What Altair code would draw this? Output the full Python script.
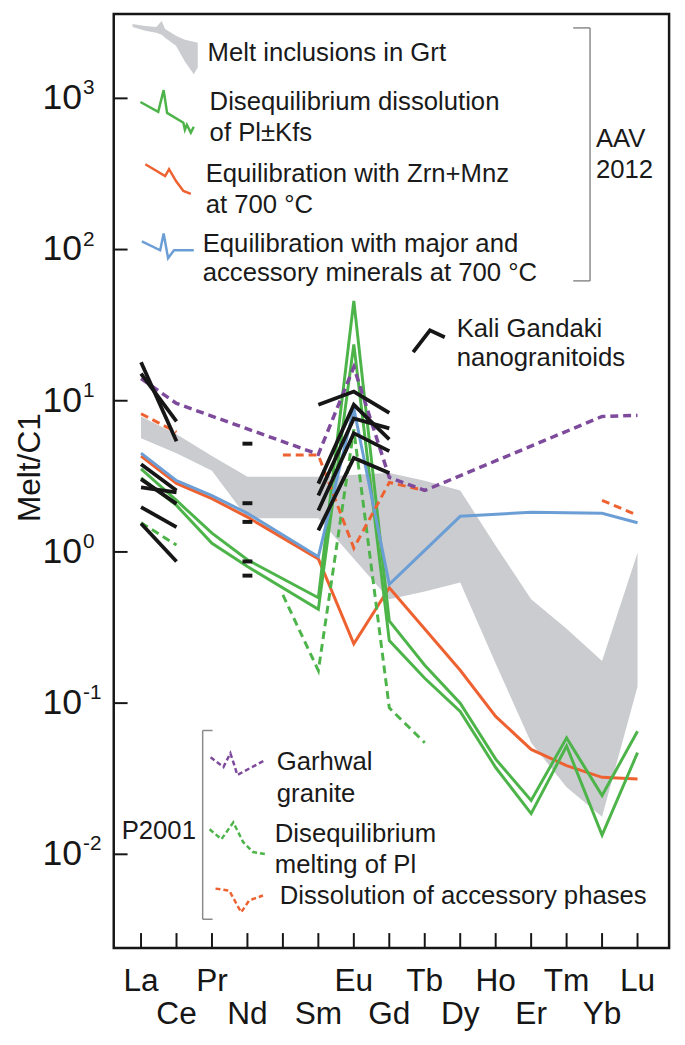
import altair as alt
import pandas as pd

# ---------------- data ----------------
elements = ["La", "Ce", "Pr", "Nd", "Pm", "Sm", "Eu", "Gd", "Tb", "Dy", "Ho", "Er", "Tm", "Yb", "Lu"]
top_row = ["La", "Pr", "Eu", "Tb", "Ho", "Tm", "Lu"]
bottom_row = ["Ce", "Nd", "Sm", "Gd", "Dy", "Er", "Yb"]
N = None

# AAV 2012 models
major_acc_700 = [4.5, 2.96, 2.36, 1.80, N, 0.93, 8.9, 0.61, N, 1.72, N, 1.83, N, 1.80, 1.56]
zrn_mnz_700 = [4.31, 2.84, 2.25, 1.70, N, 0.90, 0.247, 0.58, 0.309, 0.165, 0.0817, 0.0494, 0.0386, 0.0323, 0.0315]
diseq_pl_kfs_a = [3.54, 2.19, 1.33, 0.887, N, 0.498, 45.8, 0.35, 0.178, 0.100, 0.0426, 0.0227, 0.0589, 0.0245, 0.0652]
diseq_pl_kfs_b = [3.09, 2.03, 1.14, 0.80, N, 0.418, 23.6, 0.259, 0.146, 0.088, 0.0375, 0.0186, 0.052, 0.0134, 0.047]
grt_low = [5.65, 4.5, 3.44, 1.67, N, 1.67, N, 0.486, 0.548, 0.628, 0.183, 0.0547, 0.0278, 0.0177, 0.129]
grt_high = [7.87, 6.0, 4.31, 3.14, N, 3.14, N, 3.33, 2.96, 2.55, 1.1, 0.486, 0.31, 0.19, 0.986]

# P2001 models
garhwal = [14.0, 9.6, N, N, N, 4.42, 16.7, 3.11, 2.55, N, N, N, N, 7.87, 8.0]
acc_dissolution = [
    {"La": 8.2, "Ce": 6.2},
    {"Pm": 4.37, "Sm": 4.37, "Eu": 1.06, "Gd": 2.88, "Tb": 2.55},
    {"Yb": 2.19, "Lu": 1.75},
]
diseq_melt_pl = [
    {"La": 1.56, "Ce": 1.11},
    {"Pm": 0.52, "Sm": 0.164, "Eu": 6.45, "Gd": 0.093, "Tb": 0.0547},
]

# Kali Gandaki nanogranitoids
kali_lines = [
    {"La": 18.0, "Ce": 5.4},
    {"La": 15.1, "Ce": 7.3},
    {"La": 3.8, "Ce": 2.55},
    {"La": 2.67, "Ce": 2.48},
    {"La": 3.03, "Ce": 2.08},
    {"La": 1.98, "Ce": 1.46},
    {"La": 1.54, "Ce": 0.865},
    {"Sm": 9.4, "Eu": 11.5, "Gd": 8.3},
    {"Sm": 2.83, "Eu": 9.4, "Gd": 5.55},
    {"Sm": 2.36, "Eu": 7.64, "Gd": 6.56},
    {"Sm": 1.88, "Eu": 6.10, "Gd": 4.64},
    {"Sm": 1.39, "Eu": 4.18, "Gd": 3.33},
]
kali_nd_only = [5.2, 2.10, 1.58, 0.865, 0.697]

decades = [0.01, 0.1, 1, 10, 100, 1000]
exponents = ["-2", "-1", "0", "1", "2", "3"]

# ---------------- helpers ----------------
idx = {e: i for i, e in enumerate(elements)}


def series_df(values, seg=0):
    return pd.DataFrame([{"idx": i, "value": v, "seg": seg} for i, v in enumerate(values) if v is not None])


def segs_df(segs):
    rows = []
    for s, d in enumerate(segs):
        for e, v in d.items():
            rows.append({"idx": idx[e], "value": v, "seg": s})
    return pd.DataFrame(rows)


W, H = 562, 945
XL, YT = 115, 8  # page position of the plot frame
x_scale = alt.Scale(domain=[-0.77, 14.89], nice=False, zero=False)
y_scale = alt.Scale(type="log", domain=[10 ** -2.619, 10 ** 3.5575], nice=False)
X = alt.X("idx:Q", scale=x_scale, axis=None)
Y = alt.Y("value:Q", scale=y_scale, axis=None)
FONT = "Liberation Sans"

GREEN = "#4DB44A"
ORANGE = "#EE6130"
BLUE = "#6C9ED6"
PURPLE = "#7E4A9C"
GRAY = "#CACCD0"
BLACK = "#161616"


def line(df, color, width=3.0, dash=None):
    kw = dict(color=color, strokeWidth=width, strokeCap="butt", strokeJoin="miter")
    if dash:
        kw["strokeDash"] = dash
    return alt.Chart(df).mark_line(**kw).encode(x=X, y=Y, detail="seg:N")


band_df = pd.DataFrame([{"idx": i, "low": lo, "high": hi}
                        for i, (lo, hi) in enumerate(zip(grt_low, grt_high)) if lo is not None])
band = alt.Chart(band_df).mark_area(color=GRAY, opacity=1).encode(
    x=X, y=alt.Y("low:Q", scale=y_scale, axis=None), y2="high:Q")

DASH = [8, 5]
layers = [
    band,
    line(series_df(zrn_mnz_700), ORANGE),
    line(series_df(diseq_pl_kfs_a), GREEN),
    line(series_df(diseq_pl_kfs_b), GREEN),
    line(series_df(major_acc_700), BLUE),
    line(segs_df(diseq_melt_pl), GREEN, 3, DASH),
    line(segs_df(acc_dissolution), ORANGE, 3, DASH),
    line(series_df(garhwal), PURPLE, 3.5, DASH),
    line(segs_df(kali_lines), BLACK, 3.8),
    alt.Chart(pd.DataFrame({"idx": [idx["Nd"]] * len(kali_nd_only), "value": kali_nd_only}))
    .mark_tick(orient="horizontal", size=10, thickness=4, color=BLACK, opacity=1).encode(x=X, y=Y),
]

# axis ticks (inward) and tick labels
ytick_df = pd.DataFrame({"value": decades, "exp": exponents})
layers.append(alt.Chart(ytick_df).mark_rule(color=BLACK, strokeWidth=2).encode(
    y=Y, x=alt.value(0), x2=alt.value(14)))
layers.append(alt.Chart(ytick_df).mark_text(font=FONT, fontSize=36, align="right", baseline="middle", color=BLACK)
              .encode(y=Y, x=alt.value(83 - XL), text=alt.value("10")))
layers.append(alt.Chart(ytick_df).mark_text(font=FONT, fontSize=21, align="left", baseline="middle", dy=-10, color=BLACK)
              .encode(y=Y, x=alt.value(84 - XL), text="exp:N"))

xtick_df = pd.DataFrame({"idx": list(range(len(elements)))})
layers.append(alt.Chart(xtick_df).mark_rule(color=BLACK, strokeWidth=2).encode(
    x=X, y=alt.value(H - 15), y2=alt.value(H)))
xlab_df = pd.DataFrame([{"idx": idx[e], "label": e, "row": 0} for e in top_row] +
                       [{"idx": idx[e], "label": e, "row": 1} for e in bottom_row])
for r, yb in [(0, 996.5), (1, 1030.5)]:
    layers.append(alt.Chart(xlab_df[xlab_df.row == r]).mark_text(
        font=FONT, fontSize=32, align="center", baseline="alphabetic", color=BLACK)
        .encode(x=X, y=alt.value(yb - YT), text="label:N"))

# y axis title
layers.append(alt.Chart(pd.DataFrame({"t": ["Melt/C1"]})).mark_text(
    font=FONT, fontSize=32, angle=270, align="center", baseline="middle", color=BLACK)
    .encode(x=alt.value(30 - XL), y=alt.value(467 - YT), text="t:N"))

# ---------------- legend / annotations (pixel positions) ----------------
PX = alt.X("px:Q", scale=None, axis=None)
PY = alt.Y("py:Q", scale=None, axis=None)


def pix(pts, **extra):
    return pd.DataFrame([{"px": x - XL, "py": y - YT, "ord": k, **extra} for k, (x, y) in enumerate(pts)])


def icon(pts, color, width=3.0, dash=None):
    kw = dict(color=color, strokeWidth=width, strokeJoin="miter")
    if dash:
        kw["strokeDash"] = dash
    return alt.Chart(pix(pts)).mark_line(**kw).encode(x=PX, y=PY, order="ord:Q")


gray_icon = pd.DataFrame([{"px": x - XL, "py": a - YT, "py2": b - YT} for x, a, b in [
    (134, 18, 21), (147, 20, 25), (158, 21, 27), (163.5, 15, 29), (167, 23, 32),
    (178, 30, 40), (187, 34, 56), (196, 36, 69), (200, 37, 62)]])
layers.append(alt.Chart(gray_icon).mark_area(color=GRAY).encode(
    x=PX, y=PY, y2=alt.Y2("py2:Q")))
layers.append(icon([(142, 97), (160, 107), (165.5, 85), (169, 108), (185.5, 118), (187, 125), (189, 120), (193, 128), (196, 122)], GREEN, 2.5))
layers.append(icon([(147, 160), (167, 172), (171, 165), (178, 177), (185.5, 187), (193, 190)], ORANGE, 2.5))
layers.append(icon([(143.5, 238), (162, 247), (165.5, 230), (170, 255), (176, 247), (196, 247)], BLUE, 2.5))
layers.append(icon([(418, 350), (435, 328), (450, 335)], BLACK, 3.8))
layers.append(icon([(213, 760), (226, 770), (233, 756), (237, 768), (240, 778), (255, 770), (268, 763)], PURPLE, 2.5, [5, 3]))
layers.append(icon([(212, 833), (224, 843), (236, 826), (246, 846), (256, 856), (268, 858)], GREEN, 2.5, [5, 3]))
layers.append(icon([(218, 893), (232, 895), (240, 910), (244, 917), (252, 905), (266, 900)], ORANGE, 2.5, [5, 3]))

brackets = pd.DataFrame([
    {"px": 580, "py": 22, "px2": 597, "py2": 22},
    {"px": 597, "py": 22, "px2": 597, "py2": 278},
    {"px": 580, "py": 278, "px2": 597, "py2": 278},
    {"px": 205, "py": 733, "px2": 215, "py2": 733},
    {"px": 205, "py": 733, "px2": 205, "py2": 924},
    {"px": 205, "py": 924, "px2": 215, "py2": 924},
])
brackets["px"] -= XL
brackets["px2"] -= XL
brackets["py"] -= YT
brackets["py2"] -= YT
layers.append(alt.Chart(brackets).mark_rule(color="#8A8A8A", strokeWidth=1.5).encode(
    x=PX, y=PY, x2=alt.X2("px2:Q"), y2=alt.Y2("py2:Q")))

labels = [
    ("Melt inclusions in Grt", 210, 47),
    ("Disequilibrium dissolution", 212, 97),
    ("of Pl±Kfs", 212, 128),
    ("Equilibration with Zrn+Mnz", 208, 170),
    ("at 700 °C", 208, 201),
    ("Equilibration with major and", 205, 241),
    ("accessory minerals at 700 °C", 205, 270),
    ("AAV", 603, 135),
    ("2012", 603, 166),
    ("Kali Gandaki", 462, 327),
    ("nanogranitoids", 462, 356),
    ("Garhwal", 280, 765),
    ("granite", 280, 797),
    ("P2001", 123, 835),
    ("Disequilibrium", 278, 838),
    ("melting of Pl", 278, 869),
    ("Dissolution of accessory phases", 283, 901),
]
lab_df = pd.DataFrame([{"px": x - XL, "py": y - YT, "t": t} for t, x, y in labels])
layers.append(alt.Chart(lab_df).mark_text(font=FONT, fontSize=26, align="left", baseline="middle", color="#1A1A1A")
              .encode(x=PX, y=PY, text="t:N"))

chart = alt.layer(*layers).resolve_scale(x="independent", y="independent").properties(
    width=W, height=H,
    autosize=alt.AutoSizeParams(type="none"),
    padding={"left": XL - 8, "top": 0, "right": 8, "bottom": 82},
).configure_view(stroke=BLACK, strokeWidth=2.5)

chart.save("out.html", embed_options={"renderer": "svg", "actions": False})
